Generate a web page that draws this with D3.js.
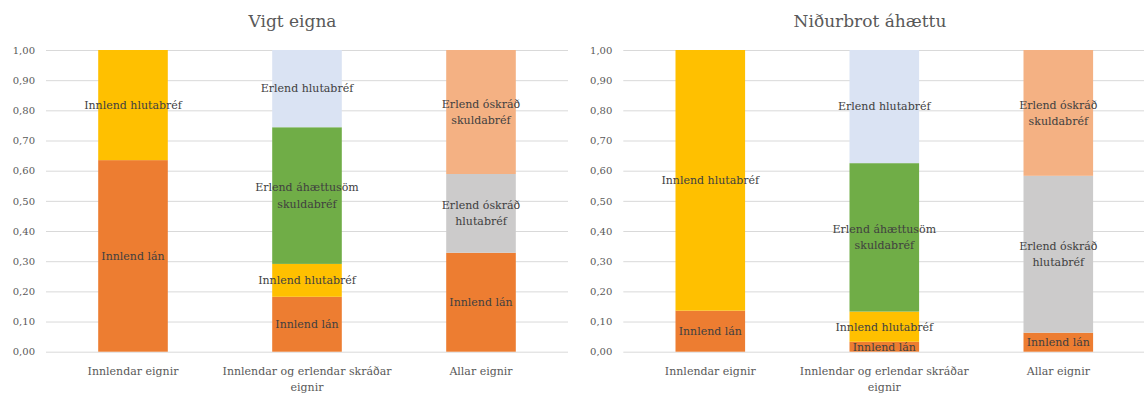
<!DOCTYPE html>
<html>
<head>
<meta charset="utf-8">
<script src="https://cdn.jsdelivr.net/npm/d3@7"></script>
<style>
  html, body { margin: 0; padding: 0; background: #fff; }
  svg { display: block; }
  text { font-family: "DejaVu Serif", serif; }
</style>
</head>
<body>
<svg id="chart" width="1144" height="398"></svg>
<script>
// ---- Data ----
const categories = ["Innlendar eignir", "Innlendar og erlendar skráðar eignir", "Allar eignir"];
const categoryLines = [["Innlendar eignir"], ["Innlendar og erlendar skráðar", "eignir"], ["Allar eignir"]];
const seriesNames = ["Innlend lán", "Innlend hlutabréf", "Erlend áhættusöm skuldabréf", "Erlend hlutabréf", "Erlend óskráð hlutabréf", "Erlend óskráð skuldabréf"];
const seriesLabelLines = [["Innlend lán"], ["Innlend hlutabréf"], ["Erlend áhættusöm", "skuldabréf"], ["Erlend hlutabréf"], ["Erlend óskráð", "hlutabréf"], ["Erlend óskráð", "skuldabréf"]];
const seriesColors = ["#ED7D31", "#FFC000", "#70AD47", "#DAE3F3", "#CCCBCB", "#F4B183"];
const yTicks = [0, 0.1, 0.2, 0.3, 0.4, 0.5, 0.6, 0.7, 0.8, 0.9, 1.0];

const leftTitle = "Vigt eigna";
const leftInnlendLan = [0.635, 0.182, 0.328];
const leftInnlendHlutabref = [0.365, 0.109, 0];
const leftErlendAhaettusom = [0, 0.453, 0];
const leftErlendHlutabref = [0, 0.256, 0];
const leftErlendOskradHlutabref = [0, 0, 0.261];
const leftErlendOskradSkuldabref = [0, 0, 0.411];

const rightTitle = "Niðurbrot áhættu";
const rightInnlendLan = [0.136, 0.033, 0.063];
const rightInnlendHlutabref = [0.864, 0.100, 0];
const rightErlendAhaettusom = [0, 0.492, 0];
const rightErlendHlutabref = [0, 0.375, 0];
const rightErlendOskradHlutabref = [0, 0, 0.520];
const rightErlendOskradSkuldabref = [0, 0, 0.417];

const leftSeries = [leftInnlendLan, leftInnlendHlutabref, leftErlendAhaettusom, leftErlendHlutabref, leftErlendOskradHlutabref, leftErlendOskradSkuldabref];
const rightSeries = [rightInnlendLan, rightInnlendHlutabref, rightErlendAhaettusom, rightErlendHlutabref, rightErlendOskradHlutabref, rightErlendOskradSkuldabref];

// ---- Drawing ----
const svg = d3.select("#chart");
const defs = svg.append("defs");

function drawPanel(opts) {
  const { id, title, titleX, plotX0, series } = opts;
  const plotW = 522, yTop = 50, yBottom = 351.7;
  const g = svg.append("g");

  const rows = categories.map((c, i) => {
    const r = { category: c };
    seriesNames.forEach((s, k) => { r[s] = series[k][i]; });
    return r;
  });

  const x = d3.scaleBand().domain(categories).range([plotX0, plotX0 + plotW])
    .paddingInner(0.6).paddingOuter(0.3);
  const y = d3.scaleLinear().domain([0, 1]).range([yBottom, yTop]);

  defs.append("clipPath").attr("id", "clip-" + id)
    .append("rect").attr("x", plotX0).attr("y", 0)
    .attr("width", plotW).attr("height", yBottom);

  // gridlines + y tick labels
  const yAxis = d3.axisLeft(y).tickValues(yTicks)
    .tickFormat(d => d.toFixed(2).replace(".", ","))
    .tickSize(-plotW).tickPadding(11);
  const ya = g.append("g").attr("transform", `translate(${plotX0},0)`).call(yAxis);
  ya.select(".domain").remove();
  ya.selectAll(".tick line").attr("stroke", "#D9D9D9").attr("stroke-width", 1);
  ya.selectAll(".tick text").attr("fill", "#595959").style("font-size", "10px")
    .style("font-family", "'DejaVu Serif', serif");

  // stacked bars
  const stacked = d3.stack().keys(seriesNames)(rows);
  const layers = g.append("g").selectAll("g").data(stacked).join("g")
    .attr("fill", (d, i) => seriesColors[i]);
  layers.selectAll("rect").data(d => d.filter(p => p[1] - p[0] > 0)).join("rect")
    .attr("x", d => x(d.data.category))
    .attr("width", x.bandwidth())
    .attr("y", d => y(d[1]))
    .attr("height", d => y(d[0]) - y(d[1]));

  // data labels
  const lineH = 16.5;
  const lg = g.append("g").attr("clip-path", `url(#clip-${id})`);
  stacked.forEach((layer, k) => {
    layer.forEach(p => {
      if (p[1] - p[0] <= 0) return;
      const cx = x(p.data.category) + x.bandwidth() / 2;
      const cy = y((p[0] + p[1]) / 2);
      const lines = seriesLabelLines[k];
      const t = lg.append("text")
        .attr("text-anchor", "middle")
        .attr("fill", "#404040")
        .style("font-size", "11px");
      lines.forEach((ln, j) => {
        t.append("tspan")
          .attr("x", cx)
          .attr("y", cy + (j - (lines.length - 1) / 2) * lineH)
          .attr("dy", "0.35em")
          .text(ln);
      });
    });
  });

  // category axis
  const xAxis = d3.axisBottom(x).tickSize(0).tickPadding(0);
  const xa = g.append("g").attr("transform", `translate(0,${yBottom})`).call(xAxis);
  xa.select(".domain").remove();
  xa.selectAll(".tick text").each(function(d, i) {
    const t = d3.select(this);
    t.text(null).attr("y", 0).attr("dy", null)
      .attr("fill", "#595959").style("font-size", "11px")
      .style("font-family", "'DejaVu Serif', serif");
    categoryLines[i].forEach((ln, j) => {
      t.append("tspan").attr("x", 0).attr("y", 19 + j * 16).attr("dy", "0.35em").text(ln);
    });
  });

  // title
  g.append("text")
    .attr("x", titleX).attr("y", 21).attr("dy", "0.35em")
    .attr("text-anchor", "middle")
    .attr("fill", "#595959")
    .style("font-size", "17px")
    .text(title);
}

drawPanel({ id: "left", title: leftTitle, titleX: 292.5, plotX0: 46, series: leftSeries });
drawPanel({ id: "right", title: rightTitle, titleX: 870, plotX0: 623.3, series: rightSeries });
</script>
</body>
</html>
